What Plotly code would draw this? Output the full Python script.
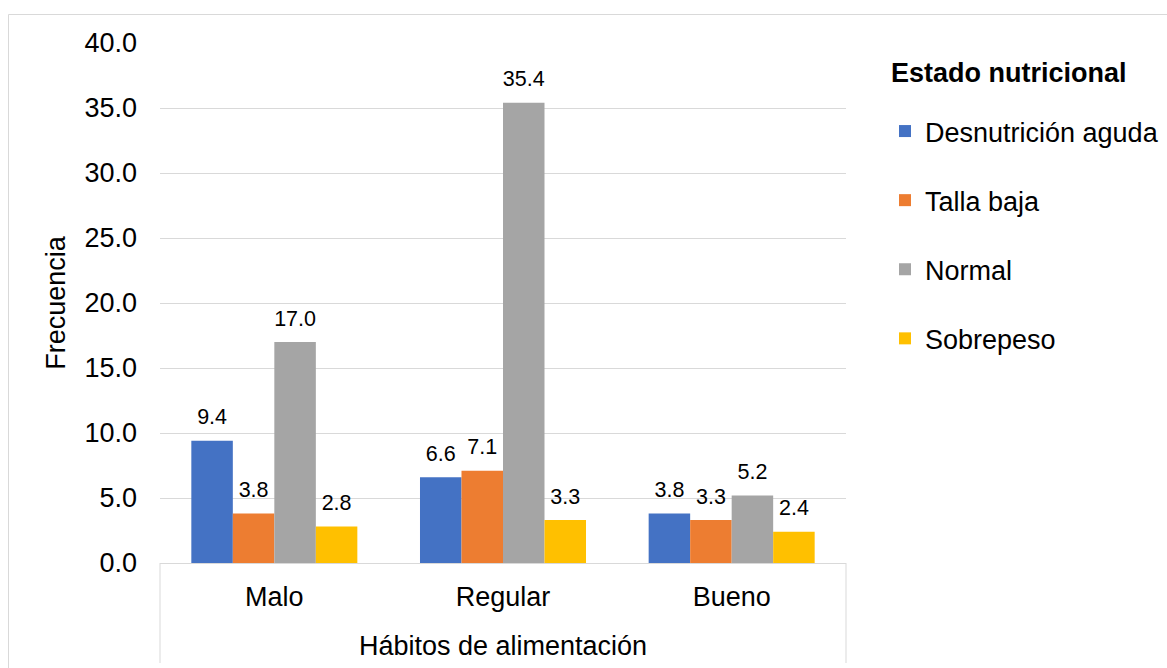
import plotly.graph_objects as go

categories = ["Malo", "Regular", "Bueno"]
series_names = ["Desnutrición aguda", "Talla baja", "Normal", "Sobrepeso"]
desnutricion = [9.4, 6.6, 3.8]
talla_baja = [3.8, 7.1, 3.3]
normal = [17.0, 35.4, 5.2]
sobrepeso = [2.8, 3.3, 2.4]
y_ticks = [0, 5, 10, 15, 20, 25, 30, 35, 40]

series_values = [desnutricion, talla_baja, normal, sobrepeso]
colors = ["#4472C4", "#ED7D31", "#A5A5A5", "#FFC000"]
FONT = "Liberation Sans, Arial, sans-serif"

fig = go.Figure()
for i, (name, vals, col) in enumerate(zip(series_names, series_values, colors)):
    fig.add_trace(go.Bar(
        x=categories, y=vals, name=name,
        marker=dict(color=col, line=dict(width=0)),
        legendgroup=f"g{i}", offsetgroup=f"o{i}",
        hoverinfo="skip",
    ))
for i, vals in enumerate(series_values):
    fig.add_trace(go.Scatter(
        x=categories, y=vals, mode="markers+text",
        text=[f"{v:.1f}" for v in vals], textposition="top center",
        textfont=dict(family=FONT, size=21.5, color="#000000"),
        marker=dict(size=16, color="rgba(0,0,0,0)"),
        offsetgroup=f"o{i}", showlegend=False, hoverinfo="skip", cliponaxis=False,
    ))

L, R, T, B = 160, 321, 43, 105
W, H = 1167, 668
pw, ph = W - L - R, H - T - B

def px(x):
    return (x - L) / pw

def py(y):
    return (H - B - y) / ph

fig.update_layout(
    width=W, height=H,
    margin=dict(l=L, r=R, t=T, b=B, autoexpand=False),
    paper_bgcolor="white", plot_bgcolor="white",
    barmode="group", bargap=0.274, bargroupgap=0,
    scattermode="group", scattergap=0.274,
    font=dict(family=FONT, size=27, color="#000000"),
    showlegend=True,
    legend=dict(
        x=px(885), y=py(107), xanchor="left", yanchor="top",
        font=dict(family=FONT, size=27, color="#000000"),
        traceorder="grouped", tracegroupgap=31,
        bgcolor="rgba(0,0,0,0)", borderwidth=0,
    ),
    xaxis=dict(
        showgrid=False, showline=True, linecolor="#D9D9D9", linewidth=1,
        ticks="", ticklabelstandoff=10,
        tickfont=dict(family=FONT, size=27, color="#000000"),
        title=dict(text="Hábitos de alimentación", standoff=24,
                   font=dict(family=FONT, size=27, color="#000000")),
    ),
    yaxis=dict(
        range=[0, 40], tickvals=y_ticks, tickformat=".1f",
        showgrid=True, gridcolor="#D9D9D9", gridwidth=1,
        zeroline=False, showline=False, ticks="", ticklabelstandoff=22,
        tickfont=dict(family=FONT, size=27, color="#000000"),
        title=dict(text="Frecuencia", standoff=10,
                   font=dict(family=FONT, size=27, color="#000000")),
    ),
    annotations=[dict(
        text="<b>Estado nutricional</b>", xref="paper", yref="paper",
        x=px(889), y=py(73), xanchor="left", yanchor="middle", showarrow=False,
        font=dict(family=FONT, size=27, color="#000000"),
    )],
    shapes=[
        dict(type="line", xref="paper", yref="paper", x0=0, x1=0, y0=0, y1=py(663),
             line=dict(color="#D9D9D9", width=1)),
        dict(type="line", xref="paper", yref="paper", x0=1, x1=1, y0=0, y1=py(663),
             line=dict(color="#D9D9D9", width=1)),
        dict(type="rect", xref="paper", yref="paper", x0=px(8.5), x1=px(1180),
             y0=py(690), y1=py(14.5), line=dict(color="#D9D9D9", width=1),
             fillcolor="rgba(0,0,0,0)", layer="below"),
    ],
)

fig.write_html("out.html")
